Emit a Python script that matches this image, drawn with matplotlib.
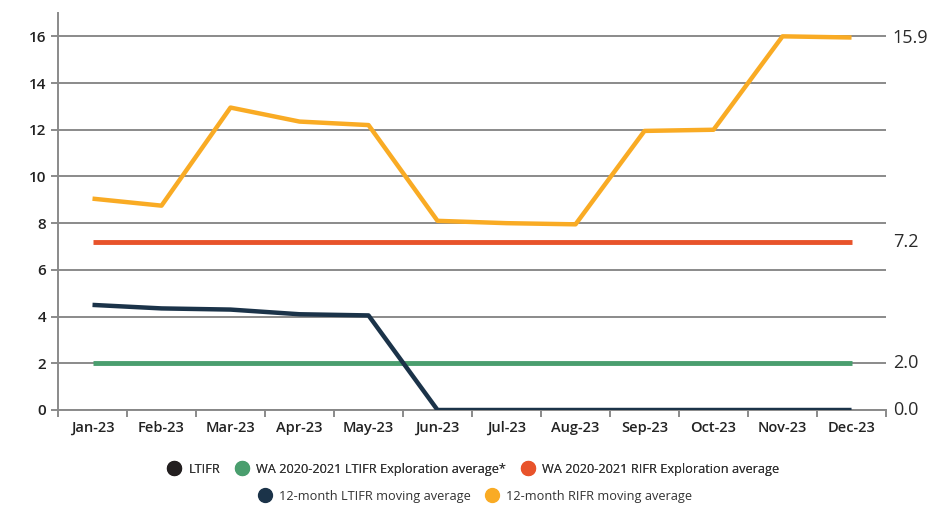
import numpy as np
import matplotlib.pyplot as plt
from matplotlib.lines import Line2D

months = ['Jan-23', 'Feb-23', 'Mar-23', 'Apr-23', 'May-23', 'Jun-23',
          'Jul-23', 'Aug-23', 'Sep-23', 'Oct-23', 'Nov-23', 'Dec-23']
ltifr = [0, 0, 0, 0, 0, 0, 0, 0, 0, 0, 0, 0]
wa_ltifr = [2.0] * 12
wa_rifr = [7.2] * 12
ma_ltifr = [4.5, 4.35, 4.3, 4.1, 4.05, 0, 0, 0, 0, 0, 0, 0]
ma_rifr = [9.05, 8.75, 12.95, 12.35, 12.2, 8.1, 8.0, 7.95, 11.95, 12.0, 16.0, 15.95]
end_labels = ['15.9', '7.2', '2.0', '0.0']
end_values = [15.95, 7.2, 2.0, 0.0]

c_black = '#231f20'
c_green = '#4a9e6e'
c_red = '#e8532b'
c_navy = '#1b3349'
c_orange = '#f9ab24'
grid_c = '#8a8a8a'

plt.rcParams['font.family'] = ['Open Sans', 'DejaVu Sans']

fig = plt.figure(figsize=(9.31, 5.09), dpi=100)
ax = fig.add_axes([0.0623, 0.1945, 0.8894, 0.78])

x = np.arange(len(months))
ax.plot(x, ltifr, color=c_black, lw=2, zorder=2)
ax.plot(x, wa_ltifr, color=c_green, lw=3.5, zorder=3, solid_capstyle='butt')
ax.plot(x, wa_rifr, color=c_red, lw=3.5, zorder=3, solid_capstyle='butt')
ax.plot(x, ma_ltifr, color=c_navy, lw=3.2, zorder=4, solid_capstyle='butt')
ax.plot(x, ma_rifr, color=c_orange, lw=3.2, zorder=4, solid_capstyle='butt')

ax.set_xlim(-0.5, len(months) - 0.5)
ax.set_ylim(0, 17)
ax.set_yticks(np.arange(0, 17, 2))
ax.yaxis.grid(True, color=grid_c, lw=1.4)
ax.set_axisbelow(True)

ax.set_xticks(x)
ax.set_xticklabels(months, fontsize=10.5, color='#222222')
ax.set_xticks(np.arange(-0.5, len(months), 1), minor=True)
ax.tick_params(axis='x', which='major', length=0, pad=8)
ax.tick_params(axis='x', which='minor', length=5, color=grid_c, width=1.4)
ax.tick_params(axis='y', length=5, color=grid_c, width=1.4, labelsize=11, labelcolor='#222222')
for lab in ax.get_yticklabels():
    lab.set_fontweight('semibold')
for lab in ax.get_xticklabels():
    lab.set_fontweight('semibold')

for s in ['top', 'right']:
    ax.spines[s].set_visible(False)
for s in ['left', 'bottom']:
    ax.spines[s].set_color(grid_c)
    ax.spines[s].set_linewidth(1.4)

for lab, v in zip(end_labels, end_values):
    ax.text(1.008, v, lab, transform=ax.get_yaxis_transform(), ha='left', va='center',
            fontsize=13, color='#2a2a2a')

def handle(c):
    return Line2D([], [], marker='o', color='none', markerfacecolor=c,
                  markeredgecolor=c, markersize=10)

row1 = [handle(c_black), handle(c_green), handle(c_red)]
row1_lab = ['LTIFR', 'WA 2020-2021 LTIFR Exploration average*',
            'WA 2020-2021 RIFR Exploration average']
row2 = [handle(c_navy), handle(c_orange)]
row2_lab = ['12-month LTIFR moving average', '12-month RIFR moving average']

leg1 = fig.legend(row1, row1_lab, loc='center', bbox_to_anchor=(0.505, 0.078), ncol=3,
                  frameon=False, fontsize=9.2, handletextpad=0.1, columnspacing=0.7,
                  labelcolor='#333333')
fig.legend(row2, row2_lab, loc='center', bbox_to_anchor=(0.507, 0.025), ncol=2,
           frameon=False, fontsize=9.2, handletextpad=0.1, columnspacing=0.7,
           labelcolor='#333333')
fig.add_artist(leg1)

fig.savefig('out.png', dpi=100)
